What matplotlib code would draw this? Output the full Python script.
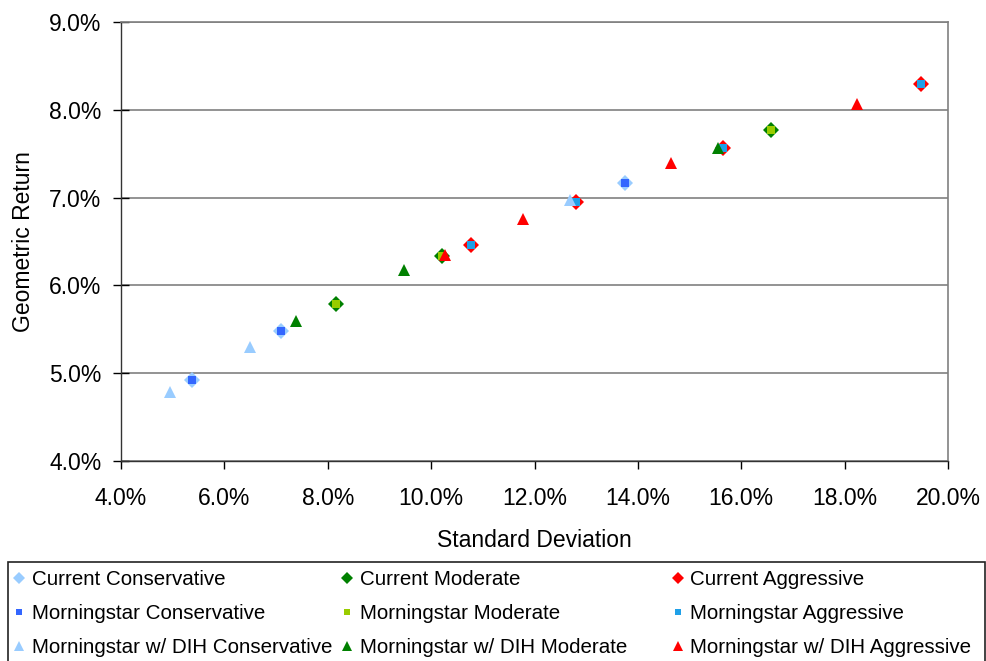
import matplotlib
matplotlib.use("Agg")
import matplotlib.pyplot as plt
from matplotlib.patches import Rectangle
from matplotlib.ticker import FuncFormatter, MultipleLocator

plt.rcParams['font.family'] = ['Liberation Sans', 'DejaVu Sans']

# Data (std dev %, geometric return %)
cur_cons_x = [5.37, 7.09, 13.75]
cur_cons_y = [4.92, 5.48, 7.17]
cur_mod_x = [8.16, 10.21, 16.57]
cur_mod_y = [5.79, 6.33, 7.77]
cur_agg_x = [10.77, 12.80, 15.64, 19.47]
cur_agg_y = [6.46, 6.95, 7.57, 8.29]
ms_cons_x = [5.37, 7.09, 13.75]
ms_cons_y = [4.92, 5.48, 7.17]
ms_mod_x = [8.16, 10.21, 16.57]
ms_mod_y = [5.79, 6.33, 7.77]
ms_agg_x = [10.77, 12.80, 15.64, 19.47]
ms_agg_y = [6.46, 6.95, 7.57, 8.29]
dih_cons_x = [4.95, 6.50, 12.68]
dih_cons_y = [4.79, 5.30, 6.97]
dih_mod_x = [7.38, 9.47, 15.55]
dih_mod_y = [5.59, 6.18, 7.57]
dih_agg_x = [10.27, 11.78, 14.64, 18.24]
dih_agg_y = [6.35, 6.76, 7.39, 8.07]

series = [
    ("Current Conservative", cur_cons_x, cur_cons_y, 'D', '#99CCFF', 8),
    ("Current Moderate", cur_mod_x, cur_mod_y, 'D', '#008000', 8),
    ("Current Aggressive", cur_agg_x, cur_agg_y, 'D', '#FF0000', 8),
    ("Morningstar Conservative", ms_cons_x, ms_cons_y, 's', '#3366FF', 6),
    ("Morningstar Moderate", ms_mod_x, ms_mod_y, 's', '#99CC00', 6),
    ("Morningstar Aggressive", ms_agg_x, ms_agg_y, 's', '#1FA0E8', 6),
    ("Morningstar w/ DIH Conservative", dih_cons_x, dih_cons_y, '^', '#99CCFF', 9),
    ("Morningstar w/ DIH Moderate", dih_mod_x, dih_mod_y, '^', '#008000', 9),
    ("Morningstar w/ DIH Aggressive", dih_agg_x, dih_agg_y, '^', '#FF0000', 9),
]

W, H = 986, 661
fig = plt.figure(figsize=(W/100, H/100), dpi=100)
ax = fig.add_axes([121/W, 1-461/H, (948-121)/W, (461-22)/H])

handles = {}
for name, xs, ys, m, c, s in series:
    h, = ax.plot(xs, ys, linestyle='none', marker=m, color=c, markersize=s,
                 markeredgewidth=0, label=name)
    handles[name] = h

ax.set_xlim(4, 20)
ax.set_ylim(4, 9)
ax.xaxis.set_major_locator(MultipleLocator(2))
ax.yaxis.set_major_locator(MultipleLocator(1))
ax.xaxis.set_major_formatter(FuncFormatter(lambda v, p: f"{v:.1f}%"))
ax.yaxis.set_major_formatter(FuncFormatter(lambda v, p: f"{v:.1f}%"))
ax.grid(axis='y', color='#808080', linewidth=1.2)
ax.set_axisbelow(True)
for sp in ['top', 'right']:
    ax.spines[sp].set_color('#808080')
    ax.spines[sp].set_linewidth(1.2)
for sp in ['left', 'bottom']:
    ax.spines[sp].set_color('#333333')
    ax.spines[sp].set_linewidth(1.0)
ax.tick_params(axis='y', direction='inout', length=12, width=1.0, labelsize=16.5,
               colors='black', pad=8)
ax.tick_params(axis='x', direction='out', length=6, width=1.0, labelsize=16.5,
               colors='black', pad=12.5)
ax.set_xlabel("Standard Deviation", fontsize=16.5, labelpad=14)
ax.set_ylabel("Geometric Return", fontsize=16.5, labelpad=10)

# Legend: frame plus three columns of equal width (row-wise order as in the reference)
fig.patches.append(Rectangle((8/W, -0.02), (985-8)/W, (H-562)/H + 0.02,
                             transform=fig.transFigure, fill=False,
                             edgecolor='#222222', linewidth=1.2))
groups = [[series[0], series[3], series[6]],
          [series[1], series[4], series[7]],
          [series[2], series[5], series[8]]]
col_left = [13, 341, 672]
for grp, xl in zip(groups, col_left):
    names = [g[0] for g in grp]
    lg = fig.legend([handles[n] for n in names], names,
                    loc='upper left', bbox_to_anchor=(xl/W, 1-570/H),
                    fontsize=14.8, frameon=False, markerscale=0.75,
                    handlelength=0.6, handletextpad=0.3, borderaxespad=0,
                    borderpad=0, labelspacing=0.74)

fig.savefig("out.png", dpi=100)
